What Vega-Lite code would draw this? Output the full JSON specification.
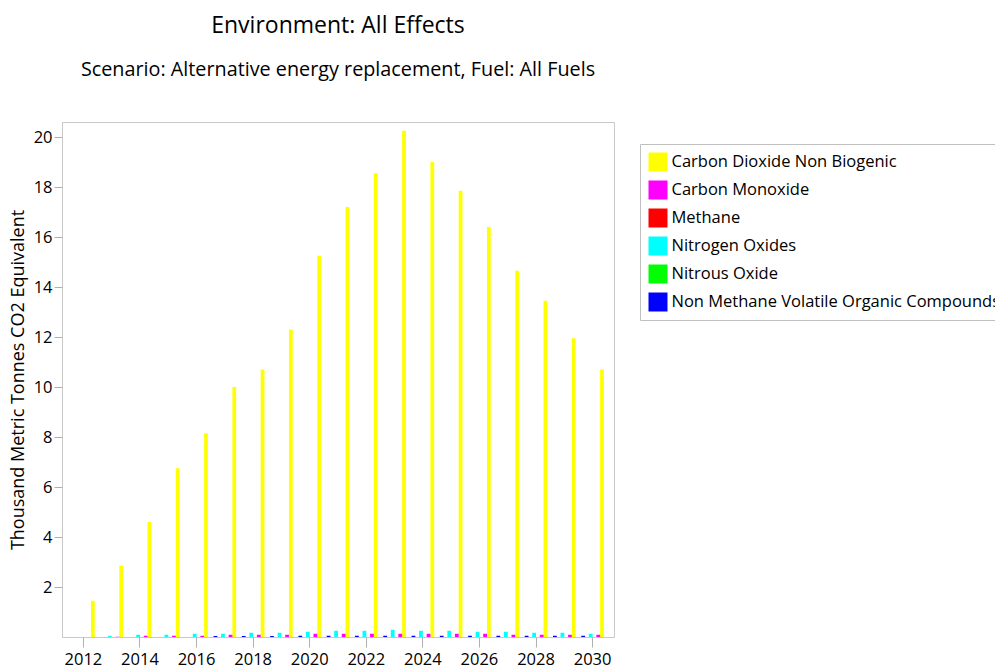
{
  "$schema": "https://vega.github.io/schema/vega-lite/v6.json",
  "autosize": "none",
  "width": 552,
  "height": 515,
  "padding": {"left": 62, "top": 122, "right": 381, "bottom": 34},
  "background": "white",
  "title": {
    "text": "Environment: All Effects",
    "subtitle": "Scenario: Alternative energy replacement, Fuel: All Fuels",
    "font": "Open Sans",
    "subtitleFont": "Open Sans",
    "fontSize": 23,
    "subtitleFontSize": 19.8,
    "fontWeight": "normal",
    "color": "#000000",
    "subtitleColor": "#000000",
    "anchor": "middle",
    "offset": 42,
    "subtitlePadding": 22
  },
  "data": {
    "values": [
      {"year": 2012, "gas": "Carbon Dioxide Non Biogenic", "value": 1.45},
      {"year": 2013, "gas": "Carbon Dioxide Non Biogenic", "value": 2.85},
      {"year": 2014, "gas": "Carbon Dioxide Non Biogenic", "value": 4.6},
      {"year": 2015, "gas": "Carbon Dioxide Non Biogenic", "value": 6.75},
      {"year": 2016, "gas": "Carbon Dioxide Non Biogenic", "value": 8.15},
      {"year": 2017, "gas": "Carbon Dioxide Non Biogenic", "value": 10.0},
      {"year": 2018, "gas": "Carbon Dioxide Non Biogenic", "value": 10.7},
      {"year": 2019, "gas": "Carbon Dioxide Non Biogenic", "value": 12.3},
      {"year": 2020, "gas": "Carbon Dioxide Non Biogenic", "value": 15.25},
      {"year": 2021, "gas": "Carbon Dioxide Non Biogenic", "value": 17.2},
      {"year": 2022, "gas": "Carbon Dioxide Non Biogenic", "value": 18.55},
      {"year": 2023, "gas": "Carbon Dioxide Non Biogenic", "value": 20.25},
      {"year": 2024, "gas": "Carbon Dioxide Non Biogenic", "value": 19.0},
      {"year": 2025, "gas": "Carbon Dioxide Non Biogenic", "value": 17.85},
      {"year": 2026, "gas": "Carbon Dioxide Non Biogenic", "value": 16.4},
      {"year": 2027, "gas": "Carbon Dioxide Non Biogenic", "value": 14.65},
      {"year": 2028, "gas": "Carbon Dioxide Non Biogenic", "value": 13.45},
      {"year": 2029, "gas": "Carbon Dioxide Non Biogenic", "value": 11.95},
      {"year": 2030, "gas": "Carbon Dioxide Non Biogenic", "value": 10.7},
      {"year": 2012, "gas": "Carbon Monoxide", "value": 0.0},
      {"year": 2013, "gas": "Carbon Monoxide", "value": 0.01},
      {"year": 2014, "gas": "Carbon Monoxide", "value": 0.05},
      {"year": 2015, "gas": "Carbon Monoxide", "value": 0.05},
      {"year": 2016, "gas": "Carbon Monoxide", "value": 0.05},
      {"year": 2017, "gas": "Carbon Monoxide", "value": 0.09},
      {"year": 2018, "gas": "Carbon Monoxide", "value": 0.09},
      {"year": 2019, "gas": "Carbon Monoxide", "value": 0.09},
      {"year": 2020, "gas": "Carbon Monoxide", "value": 0.13},
      {"year": 2021, "gas": "Carbon Monoxide", "value": 0.13},
      {"year": 2022, "gas": "Carbon Monoxide", "value": 0.13},
      {"year": 2023, "gas": "Carbon Monoxide", "value": 0.13},
      {"year": 2024, "gas": "Carbon Monoxide", "value": 0.13},
      {"year": 2025, "gas": "Carbon Monoxide", "value": 0.13},
      {"year": 2026, "gas": "Carbon Monoxide", "value": 0.13},
      {"year": 2027, "gas": "Carbon Monoxide", "value": 0.09},
      {"year": 2028, "gas": "Carbon Monoxide", "value": 0.09},
      {"year": 2029, "gas": "Carbon Monoxide", "value": 0.09},
      {"year": 2030, "gas": "Carbon Monoxide", "value": 0.09},
      {"year": 2012, "gas": "Methane", "value": 0.0},
      {"year": 2013, "gas": "Methane", "value": 0.0},
      {"year": 2014, "gas": "Methane", "value": 0.0},
      {"year": 2015, "gas": "Methane", "value": 0.0},
      {"year": 2016, "gas": "Methane", "value": 0.0},
      {"year": 2017, "gas": "Methane", "value": 0.0},
      {"year": 2018, "gas": "Methane", "value": 0.0},
      {"year": 2019, "gas": "Methane", "value": 0.0},
      {"year": 2020, "gas": "Methane", "value": 0.0},
      {"year": 2021, "gas": "Methane", "value": 0.0},
      {"year": 2022, "gas": "Methane", "value": 0.0},
      {"year": 2023, "gas": "Methane", "value": 0.0},
      {"year": 2024, "gas": "Methane", "value": 0.0},
      {"year": 2025, "gas": "Methane", "value": 0.0},
      {"year": 2026, "gas": "Methane", "value": 0.0},
      {"year": 2027, "gas": "Methane", "value": 0.0},
      {"year": 2028, "gas": "Methane", "value": 0.0},
      {"year": 2029, "gas": "Methane", "value": 0.0},
      {"year": 2030, "gas": "Methane", "value": 0.0},
      {"year": 2012, "gas": "Nitrogen Oxides", "value": 0.0},
      {"year": 2013, "gas": "Nitrogen Oxides", "value": 0.05},
      {"year": 2014, "gas": "Nitrogen Oxides", "value": 0.09},
      {"year": 2015, "gas": "Nitrogen Oxides", "value": 0.09},
      {"year": 2016, "gas": "Nitrogen Oxides", "value": 0.13},
      {"year": 2017, "gas": "Nitrogen Oxides", "value": 0.13},
      {"year": 2018, "gas": "Nitrogen Oxides", "value": 0.17},
      {"year": 2019, "gas": "Nitrogen Oxides", "value": 0.17},
      {"year": 2020, "gas": "Nitrogen Oxides", "value": 0.21},
      {"year": 2021, "gas": "Nitrogen Oxides", "value": 0.25},
      {"year": 2022, "gas": "Nitrogen Oxides", "value": 0.25},
      {"year": 2023, "gas": "Nitrogen Oxides", "value": 0.29},
      {"year": 2024, "gas": "Nitrogen Oxides", "value": 0.25},
      {"year": 2025, "gas": "Nitrogen Oxides", "value": 0.25},
      {"year": 2026, "gas": "Nitrogen Oxides", "value": 0.21},
      {"year": 2027, "gas": "Nitrogen Oxides", "value": 0.21},
      {"year": 2028, "gas": "Nitrogen Oxides", "value": 0.17},
      {"year": 2029, "gas": "Nitrogen Oxides", "value": 0.17},
      {"year": 2030, "gas": "Nitrogen Oxides", "value": 0.13},
      {"year": 2012, "gas": "Nitrous Oxide", "value": 0.0},
      {"year": 2013, "gas": "Nitrous Oxide", "value": 0.0},
      {"year": 2014, "gas": "Nitrous Oxide", "value": 0.0},
      {"year": 2015, "gas": "Nitrous Oxide", "value": 0.0},
      {"year": 2016, "gas": "Nitrous Oxide", "value": 0.0},
      {"year": 2017, "gas": "Nitrous Oxide", "value": 0.0},
      {"year": 2018, "gas": "Nitrous Oxide", "value": 0.0},
      {"year": 2019, "gas": "Nitrous Oxide", "value": 0.0},
      {"year": 2020, "gas": "Nitrous Oxide", "value": 0.0},
      {"year": 2021, "gas": "Nitrous Oxide", "value": 0.0},
      {"year": 2022, "gas": "Nitrous Oxide", "value": 0.0},
      {"year": 2023, "gas": "Nitrous Oxide", "value": 0.0},
      {"year": 2024, "gas": "Nitrous Oxide", "value": 0.0},
      {"year": 2025, "gas": "Nitrous Oxide", "value": 0.0},
      {"year": 2026, "gas": "Nitrous Oxide", "value": 0.0},
      {"year": 2027, "gas": "Nitrous Oxide", "value": 0.0},
      {"year": 2028, "gas": "Nitrous Oxide", "value": 0.0},
      {"year": 2029, "gas": "Nitrous Oxide", "value": 0.0},
      {"year": 2030, "gas": "Nitrous Oxide", "value": 0.0},
      {"year": 2012, "gas": "Non Methane Volatile Organic Compounds", "value": 0.0},
      {"year": 2013, "gas": "Non Methane Volatile Organic Compounds", "value": 0.0},
      {"year": 2014, "gas": "Non Methane Volatile Organic Compounds", "value": 0.0},
      {"year": 2015, "gas": "Non Methane Volatile Organic Compounds", "value": 0.0},
      {"year": 2016, "gas": "Non Methane Volatile Organic Compounds", "value": 0.0},
      {"year": 2017, "gas": "Non Methane Volatile Organic Compounds", "value": 0.04},
      {"year": 2018, "gas": "Non Methane Volatile Organic Compounds", "value": 0.04},
      {"year": 2019, "gas": "Non Methane Volatile Organic Compounds", "value": 0.04},
      {"year": 2020, "gas": "Non Methane Volatile Organic Compounds", "value": 0.05},
      {"year": 2021, "gas": "Non Methane Volatile Organic Compounds", "value": 0.05},
      {"year": 2022, "gas": "Non Methane Volatile Organic Compounds", "value": 0.05},
      {"year": 2023, "gas": "Non Methane Volatile Organic Compounds", "value": 0.05},
      {"year": 2024, "gas": "Non Methane Volatile Organic Compounds", "value": 0.05},
      {"year": 2025, "gas": "Non Methane Volatile Organic Compounds", "value": 0.05},
      {"year": 2026, "gas": "Non Methane Volatile Organic Compounds", "value": 0.05},
      {"year": 2027, "gas": "Non Methane Volatile Organic Compounds", "value": 0.05},
      {"year": 2028, "gas": "Non Methane Volatile Organic Compounds", "value": 0.05},
      {"year": 2029, "gas": "Non Methane Volatile Organic Compounds", "value": 0.05},
      {"year": 2030, "gas": "Non Methane Volatile Organic Compounds", "value": 0.05}
    ]
  },
  "mark": {"type": "bar"},
  "encoding": {
    "x": {
      "field": "year",
      "type": "ordinal",
      "scale": {"paddingInner": 0.2, "paddingOuter": 0.357},
      "axis": {
        "title": null,
        "values": [2012, 2014, 2016, 2018, 2020, 2022, 2024, 2026, 2028, 2030],
        "labelAngle": 0,
        "domain": false,
        "ticks": true,
        "tickSize": 10,
        "tickColor": "#b0b0b0",
        "labelFont": "Open Sans",
        "labelFontSize": 16.5,
        "labelColor": "#000000",
        "labelPadding": 4
      }
    },
    "xOffset": {
      "field": "gas",
      "type": "nominal",
      "sort": ["Non Methane Volatile Organic Compounds", "Nitrous Oxide", "Nitrogen Oxides", "Methane", "Carbon Monoxide", "Carbon Dioxide Non Biogenic"],
      "scale": {"paddingInner": 0, "paddingOuter": 0}
    },
    "y": {
      "field": "value",
      "type": "quantitative",
      "scale": {"domain": [0, 20.6], "nice": false},
      "axis": {
        "title": "Thousand Metric Tonnes CO2 Equivalent",
        "titleFont": "Open Sans",
        "titleFontSize": 18,
        "titleFontWeight": "normal",
        "titleColor": "#000000",
        "titlePadding": 6,
        "values": [2, 4, 6, 8, 10, 12, 14, 16, 18, 20],
        "grid": false,
        "domain": false,
        "tickSize": 8,
        "tickColor": "#b0b0b0",
        "labelFont": "Open Sans",
        "labelFontSize": 16.5,
        "labelColor": "#000000",
        "labelPadding": 2
      }
    },
    "color": {
      "field": "gas",
      "type": "nominal",
      "scale": {
        "domain": ["Carbon Dioxide Non Biogenic", "Carbon Monoxide", "Methane", "Nitrogen Oxides", "Nitrous Oxide", "Non Methane Volatile Organic Compounds"],
        "range": ["#ffff00", "#ff00ff", "#ff0000", "#00ffff", "#00ff00", "#0000ff"]
      },
      "legend": {
        "title": null,
        "orient": "none",
        "legendX": 578,
        "legendY": 22,
        "symbolType": "square",
        "symbolSize": 361,
        "symbolStrokeColor": "#909090",
        "symbolStrokeWidth": 1,
        "symbolOpacity": 1,
        "labelFont": "Open Sans",
        "labelFontSize": 16.5,
        "labelColor": "#000000",
        "labelLimit": 500,
        "labelOffset": 4,
        "rowPadding": 9,
        "padding": 8.5,
        "strokeColor": "#c0c0c0",
        "fillColor": "#ffffff"
      }
    }
  },
  "config": {
    "view": {"stroke": "#c8c8c8", "strokeWidth": 1},
    "bar": {"strokeWidth": 0}
  }
}
